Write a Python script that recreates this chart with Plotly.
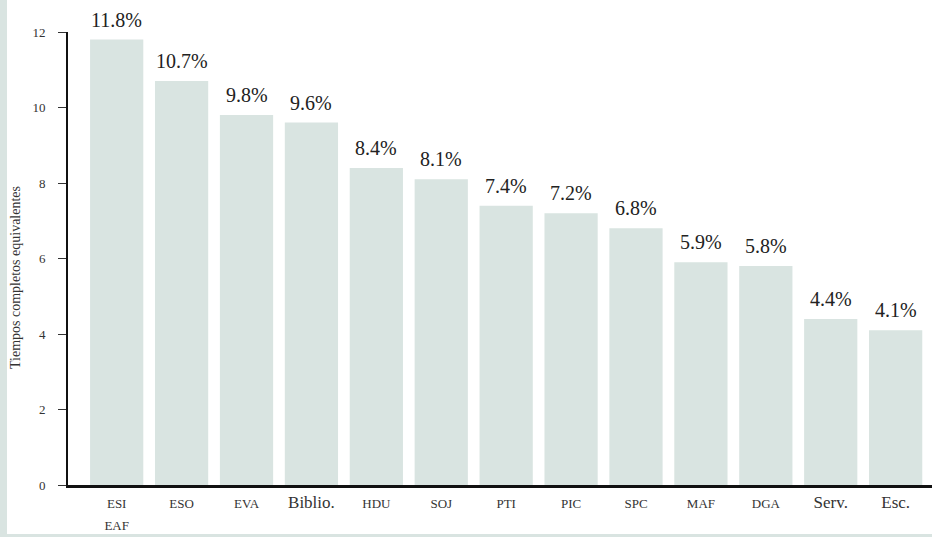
import plotly.graph_objects as go

categories = ["ESI", "ESO", "EVA", "Biblio.", "HDU", "SOJ", "PTI", "PIC", "SPC", "MAF", "DGA", "Serv.", "Esc."]
tick_labels = ["ESI<br>EAF", "ESO", "EVA", "Biblio.", "HDU", "SOJ", "PTI", "PIC", "SPC", "MAF", "DGA", "Serv.", "Esc."]
large_labels = ["Biblio.", "Serv.", "Esc."]
values = [11.8, 10.7, 9.8, 9.6, 8.4, 8.1, 7.4, 7.2, 6.8, 5.9, 5.8, 4.4, 4.1]
value_labels = ["11.8%", "10.7%", "9.8%", "9.6%", "8.4%", "8.1%", "7.4%", "7.2%", "6.8%", "5.9%", "5.8%", "4.4%", "4.1%"]
y_ticks = [0, 2, 4, 6, 8, 10, 12]
y_title = "Tiempos completos equivalentes"

BAR = "#d9e4e1"
SERIF = "Liberation Serif, serif"

ticktext = []
for lab in tick_labels:
    if lab in large_labels:
        ticktext.append(lab)
    else:
        parts = lab.split("<br>")
        ticktext.append("<br>".join('<span style="font-size:13px">' + p + '</span>' for p in parts))

fig = go.Figure()
fig.add_trace(go.Bar(
    x=categories, y=values,
    marker=dict(color=BAR, line=dict(width=0)),
    width=0.82,
    hoverinfo="skip",
))

for c, v, t in zip(categories, values, value_labels):
    fig.add_annotation(x=c, y=v, text=t, showarrow=False, yanchor="bottom",
                       yshift=7, font=dict(family=SERIF, size=20, color="#222"))

W, H = 932, 537
ml, mr, mt, mb = 68, 0, 32, 52
pw, ph = W - ml - mr, H - mt - mb

# rotated axis title
fig.add_annotation(xref="paper", yref="paper", x=(15 - ml) / pw, y=(H - mb - 278) / ph,
                   text=y_title, textangle=-90, showarrow=False,
                   xanchor="center", yanchor="middle",
                   font=dict(family=SERIF, size=14, color="#333"))

# white panel over light frame
fig.add_shape(type="rect", xref="paper", yref="paper",
              x0=(7 - ml) / pw, x1=1.0,
              y0=-(H - 3 - (H - mb)) / ph, y1=(H - mb) / ph,
              fillcolor="white", line=dict(width=0), layer="below")

fig.update_layout(
    width=W, height=H,
    margin=dict(l=ml, r=mr, t=mt, b=mb, autoexpand=False),
    paper_bgcolor=BAR,
    plot_bgcolor="white",
    showlegend=False,
    font=dict(family=SERIF, color="#333"),
)
fig.update_xaxes(
    type="category",
    tickvals=categories, ticktext=ticktext,
    range=[-0.75, 12.56],
    showline=True, linecolor="#111", linewidth=2.5,
    ticks="", showgrid=False, zeroline=False,
    tickfont=dict(family=SERIF, size=17, color="#333"),
)
fig.update_yaxes(
    range=[0, 12], tickvals=y_ticks,
    showline=True, linecolor="#111", linewidth=2,
    ticks="outside", ticklen=8, tickcolor="#333", tickwidth=1,
    ticklabelstandoff=10,
    showgrid=False, zeroline=False,
    tickfont=dict(family=SERIF, size=13, color="#333"),
)

fig.write_html("out.html", config={"displayModeBar": False},
               post_script="document.body.style.margin='0';document.body.style.overflow='hidden';")
